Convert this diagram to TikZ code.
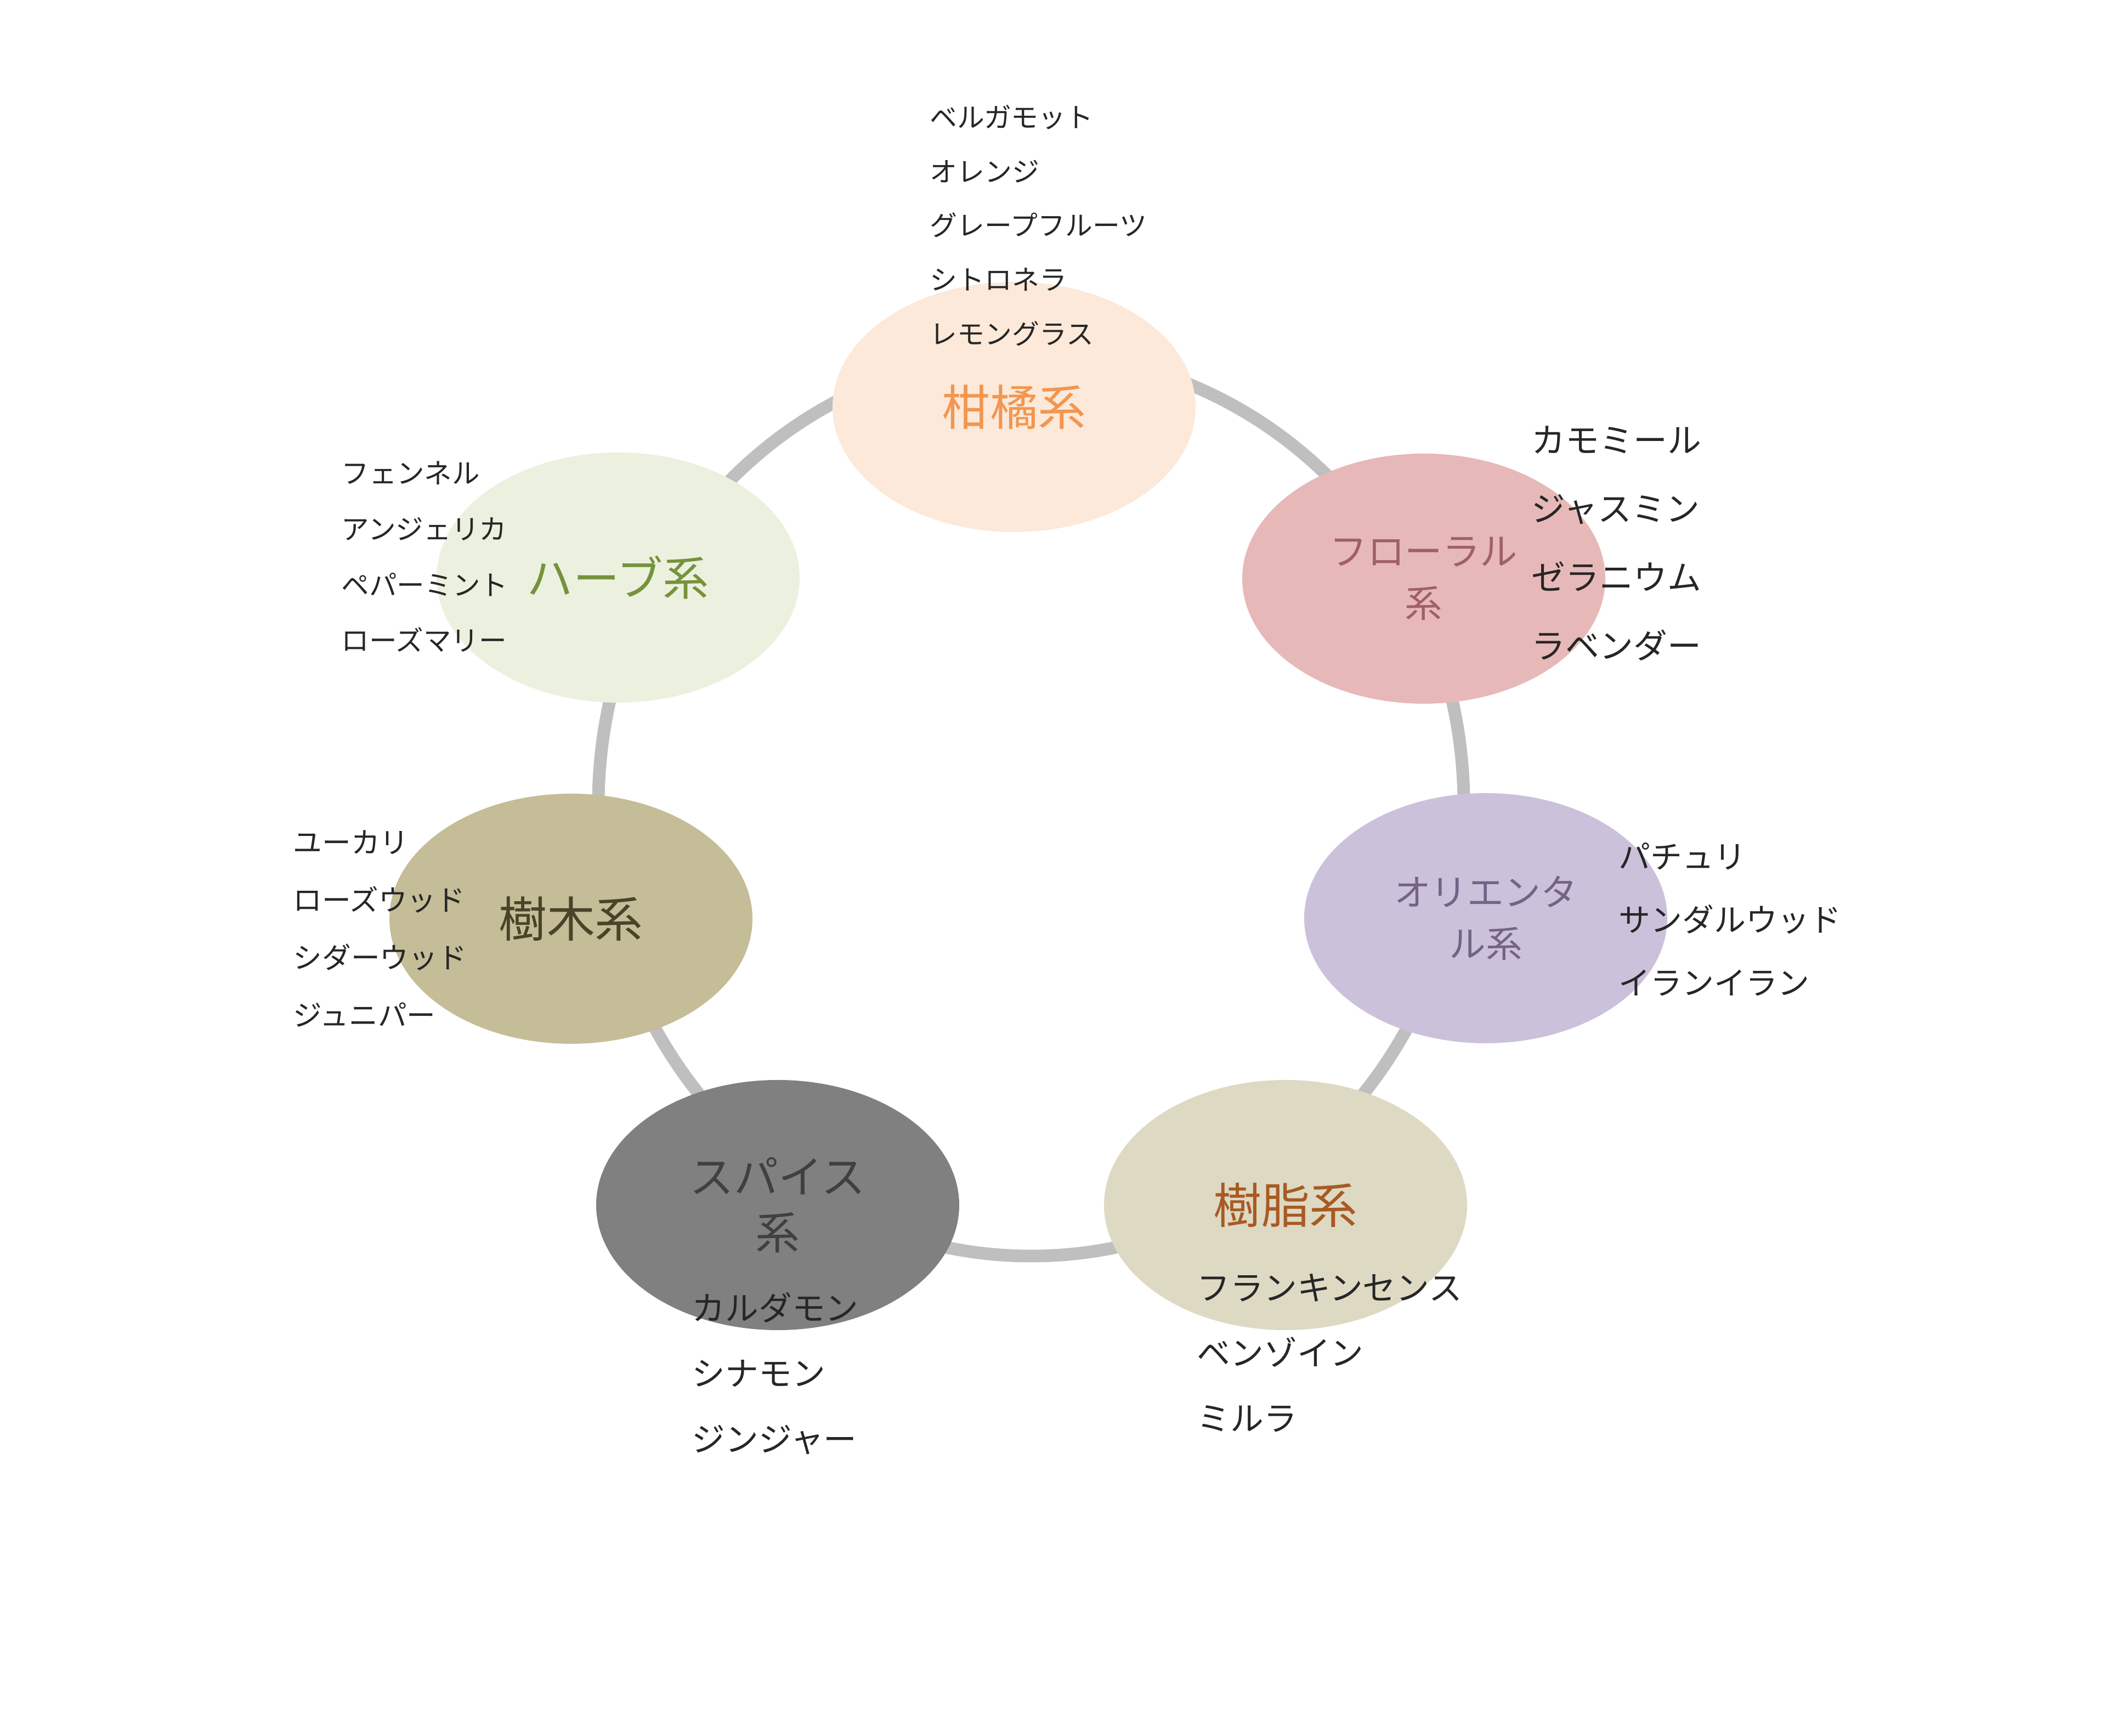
\documentclass[tikz,border=0pt]{standalone}
\usepackage{fontspec}
\newfontfamily\jp{Noto Sans CJK JP}
\usepackage{tikz}
\usetikzlibrary{shapes.geometric}
\usepackage{xcolor}
\definecolor{ringgray}{RGB}{191,191,191}
\definecolor{citrusfill}{RGB}{252,233,217}
\definecolor{citrustext}{RGB}{242,150,80}
\definecolor{floralfill}{RGB}{230,185,184}
\definecolor{floraltext}{RGB}{160,95,105}
\definecolor{orientfill}{RGB}{204,193,218}
\definecolor{orienttext}{RGB}{115,100,135}
\definecolor{resinfill}{RGB}{221,217,195}
\definecolor{resintext}{RGB}{168,90,35}
\definecolor{spicefill}{RGB}{128,128,128}
\definecolor{spicetext}{RGB}{64,64,64}
\definecolor{woodfill}{RGB}{196,189,151}
\definecolor{woodtext}{RGB}{73,68,41}
\definecolor{herbfill}{RGB}{235,241,222}
\definecolor{herbtext}{RGB}{118,146,60}

\begin{document}
\begin{tikzpicture}[
  group/.style={ellipse,minimum width=6.62cm,minimum height=4.56cm,inner sep=0pt,
                align=center},
  notes/.style 2 args={anchor=west,align=left,inner sep=0pt,text=black!85,
                font=\jp\fontsize{#1}{#2}\selectfont}
]
  \useasboundingbox (0,0) rectangle (38.4,31.64);
  \coordinate (hub) at (18.80,16.97);
  \draw[ringgray,line width=0.23cm] (hub) ellipse [x radius=7.89cm,y radius=8.23cm];

  \node[group,fill=citrusfill,text=citrustext,font=\jp\fontsize{25}{30}\selectfont]
    (citrus) at (18.49,24.22) {柑橘系};
  \node[group,fill=floralfill,text=floraltext,font=\jp\fontsize{19.5}{27}\selectfont]
    (floral) at (25.96,21.09) {フローラル\\系};
  \node[group,fill=orientfill,text=orienttext,font=\jp\fontsize{19}{26.5}\selectfont]
    (orient) at (27.09,14.90) {オリエンタ\\ル系};
  \node[group,fill=resinfill,text=resintext,font=\jp\fontsize{25}{30}\selectfont]
    (resin) at (23.44,9.67) {樹脂系};
  \node[group,fill=spicefill,text=spicetext,font=\jp\fontsize{23}{29}\selectfont]
    (spice) at (14.18,9.67) {スパイス\\系};
  \node[group,fill=woodfill,text=woodtext,font=\jp\fontsize{25}{30}\selectfont]
    (wood) at (10.41,14.89) {樹木系};
  \node[group,fill=herbfill,text=herbtext,font=\jp\fontsize{24}{30}\selectfont]
    (herb) at (11.27,21.11) {ハーブ系};

  \node[notes={14.2}{28.1}] (citruslist) at (16.95,27.53)
    {ベルガモット\\オレンジ\\グレープフルーツ\\シトロネラ\\レモングラス};
  \node[notes={17.6}{35.6}] (florallist) at (27.92,21.73)
    {カモミール\\ジャスミン\\ゼラニウム\\ラベンダー};
  \node[notes={16.5}{32.7}] (orientlist) at (29.51,14.88)
    {パチュリ\\サンダルウッド\\イランイラン};
  \node[notes={17.3}{33.9}] (resinlist) at (21.82,6.97)
    {フランキンセンス\\ベンゾイン\\ミルラ};
  \node[notes={17.3}{34.1}] (spicelist) at (12.61,6.60)
    {カルダモン\\シナモン\\ジンジャー};
  \node[notes={15}{29.9}] (woodlist) at (5.34,14.71)
    {ユーカリ\\ローズウッド\\シダーウッド\\ジュニパー};
  \node[notes={14.4}{29}] (herblist) at (6.22,21.49)
    {フェンネル\\アンジェリカ\\ペパーミント\\ローズマリー};
\end{tikzpicture}
\end{document}
